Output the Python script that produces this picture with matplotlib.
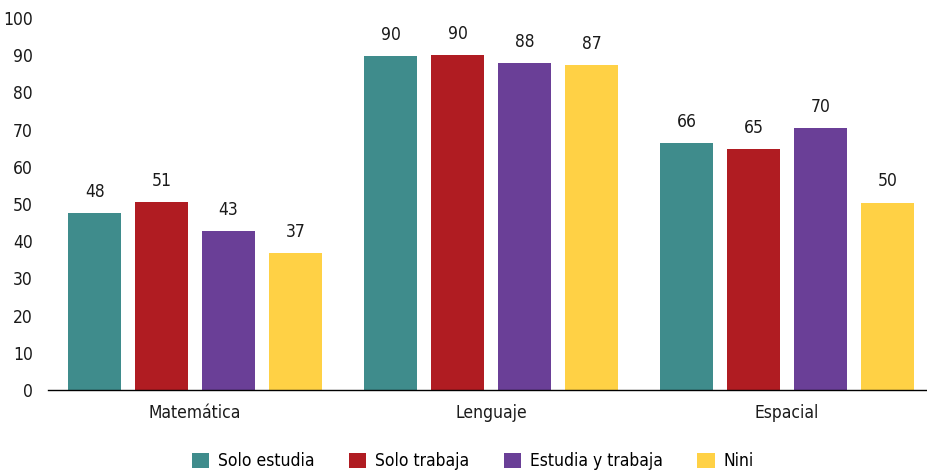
import matplotlib
matplotlib.use("Agg")
import matplotlib.pyplot as plt
import numpy as np
from matplotlib.patches import Patch

categories = ["Matemática", "Lenguaje", "Espacial"]
series = ["Solo estudia", "Solo trabaja", "Estudia y trabaja", "Nini"]
values = {
    "Solo estudia": [47.6, 89.7, 66.4],
    "Solo trabaja": [50.6, 90.1, 64.8],
    "Estudia y trabaja": [42.8, 87.9, 70.4],
    "Nini": [36.8, 87.4, 50.4],
}
colors = ["#3F8C8C", "#B01C22", "#6A3F97", "#FFD145"]
yticks = [0, 10, 20, 30, 40, 50, 60, 70, 80, 90, 100]

plt.rcParams['font.family'] = ['DejaVu Sans']
plt.rcParams['font.stretch'] = 'condensed'

fig = plt.figure(figsize=(9.28, 4.75), dpi=100)
ax = fig.add_axes([0.0517, 0.179, 0.9483, 0.783])

x = np.arange(len(categories))
step = 0.226
width = 0.18
for i, (s, c) in enumerate(zip(series, colors)):
    offs = (i - 1.5) * step
    bars = ax.bar(x + offs, values[s], width=width, color=c, edgecolor='none')
    for b, v in zip(bars, values[s]):
        ax.text(b.get_x() + b.get_width() / 2, v + 3.3, f"{v:.0f}",
                ha='center', va='bottom', fontsize=12.5, color='#1a1a1a')

ax.set_xlim(-0.497, 2.476)
ax.set_ylim(0, 100)
ax.set_yticks(yticks)
ax.set_yticklabels([str(t) for t in yticks], fontsize=12.5, color='#1a1a1a')
ax.set_xticks(x)
ax.set_xticklabels(categories, fontsize=12.5, color='#1a1a1a')
ax.tick_params(axis='y', length=0, pad=11)
ax.tick_params(axis='x', length=0, pad=10)
for sp in ['top', 'right', 'left']:
    ax.spines[sp].set_visible(False)
ax.spines['bottom'].set_color('black')
ax.spines['bottom'].set_linewidth(1.0)

handles = [Patch(facecolor=c, edgecolor='none') for c in colors]
fig.legend(handles, series, loc='center', bbox_to_anchor=(0.5093, 0.029),
           ncol=4, frameon=False, fontsize=12.5, handlelength=1.0, handleheight=1.0,
           handletextpad=0.5, columnspacing=2.0)

fig.savefig("out.png", dpi=100)
